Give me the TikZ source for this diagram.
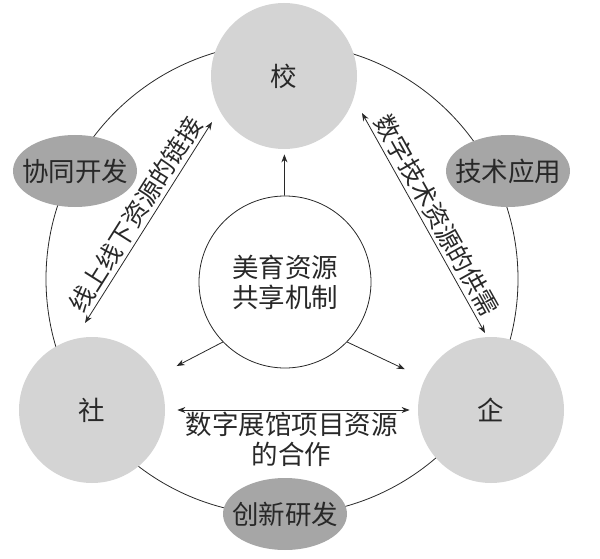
\documentclass[tikz,border=0pt]{standalone}
\usepackage{fontspec}
\newfontfamily\cjk{Noto Sans CJK SC}
\usepackage{xcolor}
\usepackage{tikz}
\usetikzlibrary{arrows.meta, shapes.geometric, positioning}

\definecolor{partygray}{RGB}{212,212,212}
\definecolor{taskgray}{RGB}{166,166,166}
\definecolor{inkgray}{RGB}{40,40,40}

\begin{document}
\begin{tikzpicture}[x=1pt, y=-1pt, line width=0.8pt, draw=inkgray, text=inkgray,
        font=\cjk\fontsize{26.5}{30}\selectfont,
        >={Stealth[length=8pt, width=6pt]},
        party/.style={circle, fill=partygray, minimum size=146pt, inner sep=0pt},
        task/.style={ellipse, fill=taskgray, minimum width=124pt, minimum height=72pt, inner sep=0pt},
        along/.style={sloped, above, font=\cjk\fontsize{25}{30}\selectfont}]
        \useasboundingbox (0,0) rectangle (600,559);

        \node[circle, draw, minimum size=472pt] (ring) at (282,279) {};

        \node[party] (xiao) at (284,76)  {校};
        \node[party] (she)  at (92,410)  {社};
        \node[party] (qi)   at (491,410) {企};

        \node[task, label=center:协同开发] (dev)   at (75,171)  {};
        \node[task, label=center:技术应用] (apply) at (508,171) {};
        \node[task, label=center:创新研发] (rnd)   at (285,514) {};

        \node[circle, draw, fill=white, minimum size=172pt, inner sep=0pt, align=center] (core) at (285,282) {美育资源\\共享机制};

        \coordinate (sheTop)    at (85,323);
        \coordinate (xiaoLeft)  at (212,122);
        \coordinate (xiaoRight) at (362,113);
        \coordinate (qiTop)     at (485,333);

        \draw[->, shorten >=5pt] (core) -- (xiao);
        \draw[->, shorten >=22pt] (core.224) -- (she);
        \draw[->, shorten >=22pt] (core.316) -- (qi);

        \path[<->]
        (sheTop) edge node[along] {线上线下资源的链接} (xiaoLeft)
        (xiaoRight) edge node[along] {数字技术资源的供需} (qiTop)
        (she) edge [shorten <=12pt, shorten >=8pt] node[below, inner sep=2pt, align=center] {数字展馆项目资源\\的合作} (qi);

\end{tikzpicture}
\end{document}
